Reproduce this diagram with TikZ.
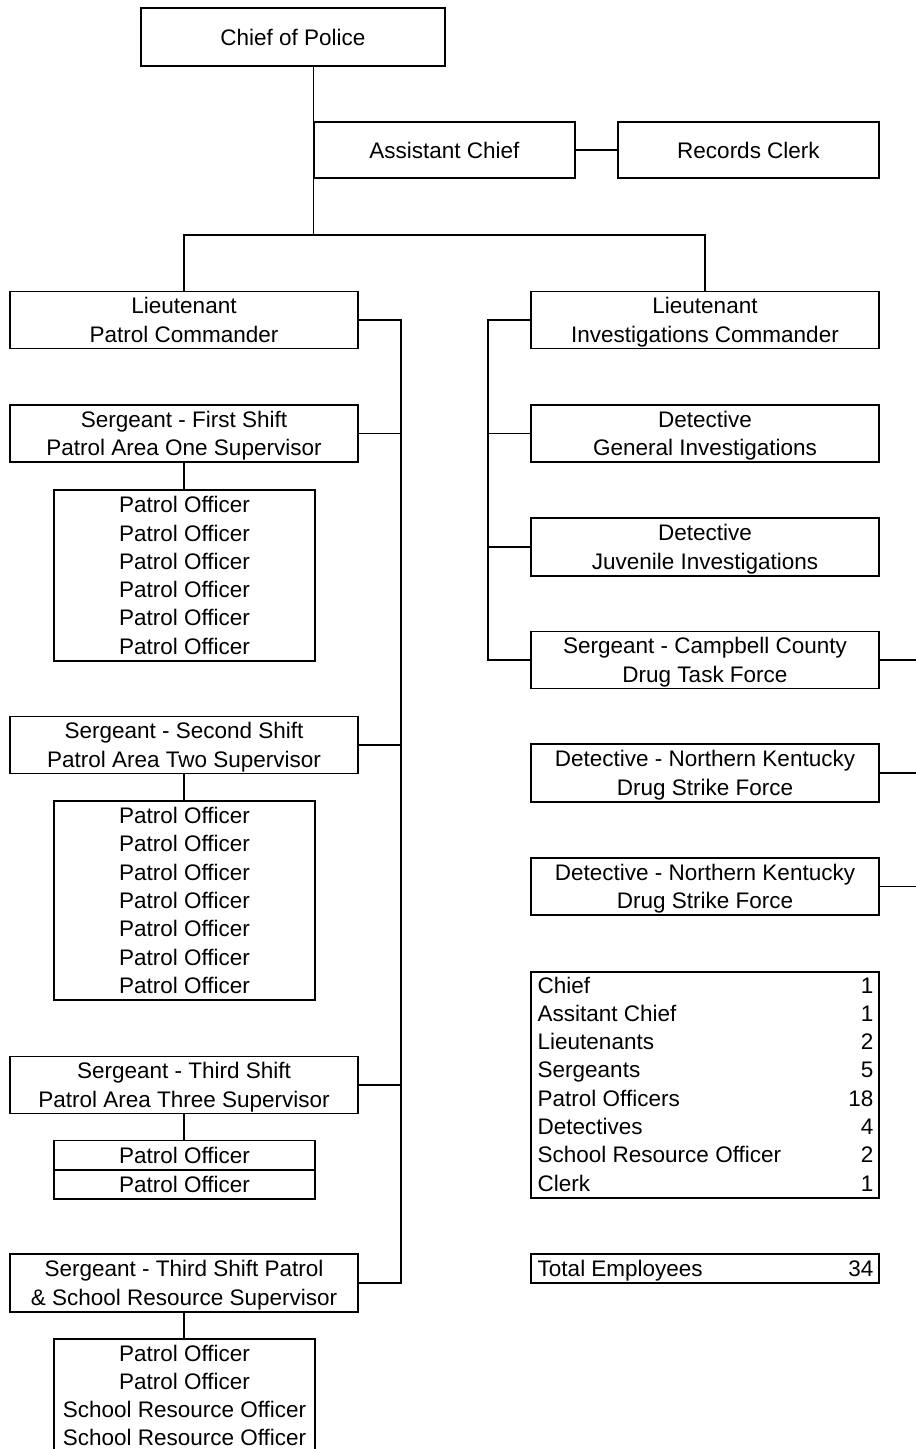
\documentclass[tikz,border=0pt]{standalone}
\usepackage{fontspec}
\setmainfont{Liberation Sans}
\newcommand\st{\rule[-6.15pt]{0pt}{28.3pt}}
\begin{document}
\begin{tikzpicture}[x=1pt,y=-1pt,
  font=\fontsize{22.5}{28.3}\selectfont,
  line width=1.4pt,
  box/.style={draw=black, rectangle, inner sep=0pt, align=center, text=black},
  wide/.style={box, minimum width=348pt},
  po/.style={box, minimum width=261pt},
  lbl/.style={inner sep=0pt, anchor=base west},
  num/.style={inner sep=0pt, anchor=base east}]
\useasboundingbox (0,0) rectangle (916,1449);
\clip (0,0) rectangle (916,1449);
\fill[white] (0,0) rectangle (916,1449);

% top
\node[box, minimum width=304pt, minimum height=58pt] (chief) at (293,37) {\st Chief of Police};
\node[box, minimum width=261pt, minimum height=56pt] (asst) at (444.5,150) {\st Assistant Chief};
\node[box, minimum width=261pt, minimum height=56pt] (rec) at (748.5,150) {\st Records Clerk};

% lieutenants
\node[wide, minimum height=56pt] (ltp) at (184,320) {\st Lieutenant\\\st Patrol Commander};
\node[wide, minimum height=56pt] (lti) at (705,320) {\st Lieutenant\\\st Investigations Commander};

% patrol side
\node[wide, minimum height=57pt] (sg1) at (184,433.5) {\st Sergeant - First Shift\\\st Patrol Area One Supervisor};
\node[po, minimum height=171pt] (po1) at (184.5,575.5) {\st Patrol Officer\\Patrol Officer\\Patrol Officer\\Patrol Officer\\Patrol Officer\\\st Patrol Officer};
\node[wide, minimum height=56pt] (sg2) at (184,745) {\st Sergeant - Second Shift\\\st Patrol Area Two Supervisor};
\node[po, minimum height=199pt] (po2) at (184.5,900.5) {\st Patrol Officer\\Patrol Officer\\Patrol Officer\\Patrol Officer\\Patrol Officer\\Patrol Officer\\\st Patrol Officer};
\node[wide, minimum height=56pt] (sg3) at (184,1085) {\st Sergeant - Third Shift\\\st Patrol Area Three Supervisor};
\node[po, minimum height=28.5pt] (po3a) at (184.5,1155) {\st Patrol Officer};
\node[po, minimum height=28.5pt, anchor=north] (po3b) at (po3a.south) {\st Patrol Officer};
\node[wide, minimum height=58pt] (sg4) at (184,1283) {\st Sergeant - Third Shift Patrol\\\st\& School Resource Supervisor};
\node[po, minimum height=113pt] (po4) at (184.5,1395.5) {\st Patrol Officer\\Patrol Officer\\School Resource Officer\\\st School Resource Officer};

% investigations side
\node[wide, minimum height=57pt] (det1) at (705,433.5) {\st Detective\\\st General Investigations};
\node[wide, minimum height=58pt] (det2) at (705,547) {\st Detective\\\st Juvenile Investigations};
\node[wide, minimum height=56pt] (sgc) at (705,660) {\st Sergeant - Campbell County\\\st Drug Task Force};
\node[wide, minimum height=58pt] (dnk1) at (705,773) {\st Detective - Northern Kentucky\\\st Drug Strike Force};
\node[wide, minimum height=57pt] (dnk2) at (705,886.5) {\st Detective - Northern Kentucky\\\st Drug Strike Force};

% summary table
\node[wide, minimum height=226pt] (tbl) at (705,1085) {};
\node[lbl] (t1) at (537,993) {Chief};
\node[num] (n1) at (874,993) {1};
\node[lbl] (t2) at (537,1021.3) {Assitant Chief};
\node[num] (n2) at (874,1021.3) {1};
\node[lbl] (t3) at (537,1049.6) {Lieutenants};
\node[num] (n3) at (874,1049.6) {2};
\node[lbl] (t4) at (537,1077.9) {Sergeants};
\node[num] (n4) at (874,1077.9) {5};
\node[lbl] (t5) at (537,1106.2) {Patrol Officers};
\node[num] (n5) at (874,1106.2) {18};
\node[lbl] (t6) at (537,1134.5) {Detectives};
\node[num] (n6) at (874,1134.5) {4};
\node[lbl] (t7) at (537,1162.8) {School Resource Officer};
\node[num] (n7) at (874,1162.8) {2};
\node[lbl] (t8) at (537,1191.1) {Clerk};
\node[num] (n8) at (874,1191.1) {1};

\node[wide, minimum height=29pt] (tot) at (705,1268.5) {};
\node[lbl] (tt) at (537,1276.5) {Total Employees};
\node[num] (tn) at (874,1276.5) {34};

% helper coordinates
\coordinate (bus) at (0,235);
\coordinate (pv) at (401,0);
\coordinate (iv) at (488,0);
\coordinate (redge) at (916,0);

% connectors
\draw (chief.south -| asst.west) -- (asst.west |- bus);
\draw (asst.east) -- (rec.west);
\draw (ltp.north) -- (ltp.north |- bus) -- (lti.north |- bus) -- (lti.north);

\draw (ltp.east) -- (ltp.east -| pv) -- (sg4.east -| pv) -- (sg4.east);
\draw (sg1.east) -- (sg1.east -| pv);
\draw (sg2.east) -- (sg2.east -| pv);
\draw (sg3.east) -- (sg3.east -| pv);
\draw (sg1.south) -- (sg1.south |- po1.north);
\draw (sg2.south) -- (sg2.south |- po2.north);
\draw (sg3.south) -- (sg3.south |- po3a.north);
\draw (sg4.south) -- (sg4.south |- po4.north);

\draw (lti.west) -- (lti.west -| iv) -- (sgc.west -| iv) -- (sgc.west);
\draw (det1.west) -- (det1.west -| iv);
\draw (det2.west) -- (det2.west -| iv);
\draw (sgc.east) -- (sgc.east -| redge);
\draw (dnk1.east) -- (dnk1.east -| redge);
\draw (dnk2.east) -- (dnk2.east -| redge);
\end{tikzpicture}
\end{document}
